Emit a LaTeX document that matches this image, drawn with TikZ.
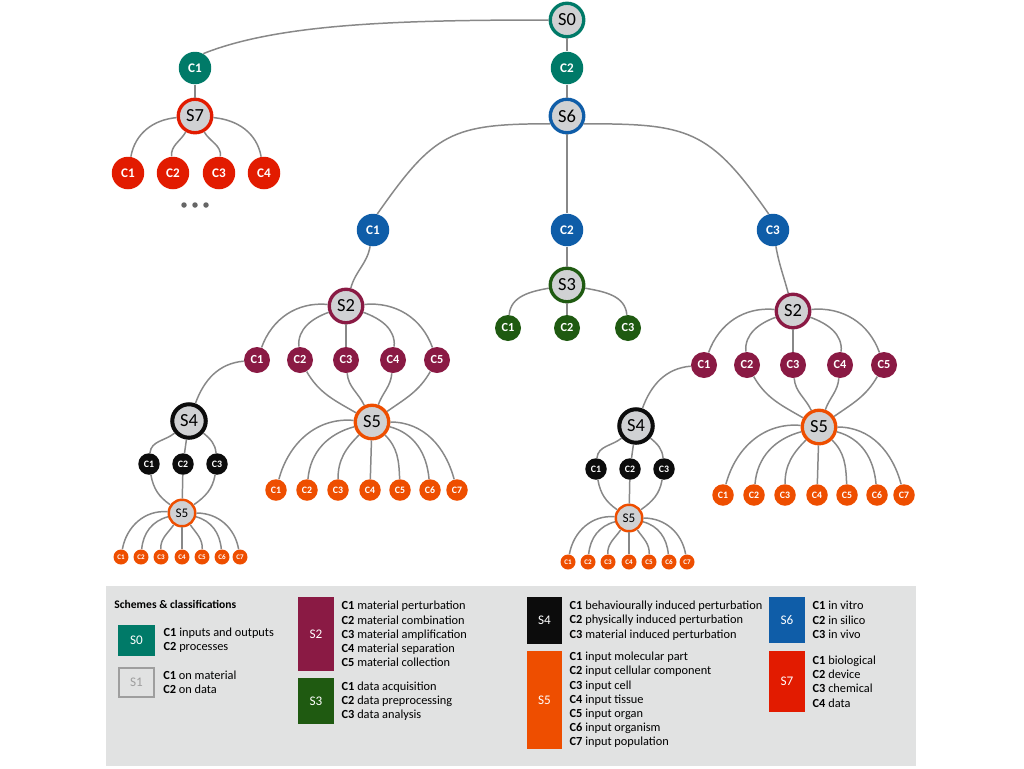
\documentclass[tikz,border=0pt]{standalone}
\usepackage{fontspec}
\setmainfont{Carlito}
\usetikzlibrary{positioning}
\definecolor{tealS0}{RGB}{0,122,104}
\definecolor{wineS2}{RGB}{138,26,68}
\definecolor{greenS3}{RGB}{31,90,17}
\definecolor{blackS4}{RGB}{12,12,12}
\definecolor{orangeS5}{RGB}{238,78,0}
\definecolor{blueS6}{RGB}{15,93,168}
\definecolor{redS7}{RGB}{226,27,0}
\definecolor{nodegray}{RGB}{208,209,211}
\definecolor{edgegray}{RGB}{136,136,136}
\definecolor{keygray}{RGB}{225,226,226}
\definecolor{keyline}{RGB}{158,158,158}
\tikzset{branch/.style={line width=0.85pt, draw=edgegray}}
\tikzset{scheme/.style={circle, draw, fill=nodegray, line width=1.9pt, inner sep=0pt,
           minimum size=0.67cm, font=\fontsize{10.5}{12}\selectfont},
         schemesmall/.style={scheme, line width=1.4pt, minimum size=0.53cm, font=\fontsize{7.5}{9}\selectfont},
         cls/.style={circle, text=white, inner sep=0pt, minimum size=0.65cm, font=\bfseries\fontsize{7.5}{9}\selectfont},
         clsmed/.style={cls, minimum size=0.52cm, font=\bfseries\fontsize{7}{8}\selectfont},
         clsnarrow/.style={cls, minimum size=0.43cm, font=\bfseries\fontsize{5.6}{7}\selectfont},
         clsmini/.style={cls, minimum size=0.3cm, font=\bfseries\fontsize{4}{5}\selectfont},
         keybox/.style={rectangle, inner sep=0pt, text=white, font=\fontsize{7.5}{9}\selectfont},
         keytext/.style={inner sep=0pt, align=left, font=\fontsize{7.02}{8.1}\selectfont}}

\begin{document}
\begin{tikzpicture}[x=0.02cm, y=-0.02cm]
  \useasboundingbox (0,0) rectangle (1024,768);

  % top of the tree
  \node[scheme, draw=tealS0] (S0) at (567,20) {S0};
  \node[cls, fill=tealS0] (S0c1) at (195,68) {C1};
  \node[cls, fill=tealS0] (S0c2) at (567,68) {C2};
  \node[scheme, draw=redS7] (S7) at (195,116) {S7};
  \node[scheme, draw=blueS6] (S6) at (567,116) {S6};
  \node[cls, fill=redS7] (S7c1) at (128,173) {C1};
  \node[cls, fill=redS7] (S7c2) at (173,173) {C2};
  \node[cls, fill=redS7] (S7c3) at (219,173) {C3};
  \node[cls, fill=redS7] (S7c4) at (264,173) {C4};
  \node[cls, fill=blueS6] (S6c1) at (373,230) {C1};
  \node[cls, fill=blueS6] (S6c2) at (567,230) {C2};
  \node[cls, fill=blueS6] (S6c3) at (773,230) {C3};
  \node[scheme, draw=greenS3] (S3) at (567,285) {S3};
  \node[clsmed, fill=greenS3] (S3c1) at (508,328) {C1};
  \node[clsmed, fill=greenS3] (S3c2) at (567,328) {C2};
  \node[clsmed, fill=greenS3] (S3c3) at (628,328) {C3};
  \fill[black!60] (184,205) circle (0.055cm) (195,205) circle (0.055cm) (206,205) circle (0.055cm);

  \draw[branch] (S0.west) .. controls +(-150,0) and +(75,-30) .. (S0c1.60);
  \draw[branch] (S0) -- (S0c2) -- (S6);
  \draw[branch] (S0c1) -- (S7);
  \draw[branch] (S7) to[out=185,in=80] (S7c1);
  \draw[branch] (S7) to[out=240,in=95] (S7c2);
  \draw[branch] (S7) to[out=300,in=85] (S7c3);
  \draw[branch] (S7) to[out=355,in=100] (S7c4);
  \draw[branch] (S6.205) to[out=180,in=55,looseness=1.3] (S6c1.75);
  \draw[branch] (S6) -- (S6c2) -- (S3);
  \draw[branch] (S6.-25) to[out=0,in=125,looseness=1.3] (S6c3.105);
  \draw[branch] (S3) to[out=190,in=85] (S3c1);
  \draw[branch] (S3) -- (S3c2);
  \draw[branch] (S3) to[out=-10,in=95] (S3c3);

  % the two S2 branches
  \foreach \p/\dx/\dy in {L/0/0,R/447/5}{
    \begin{scope}[shift={(\dx,\dy)}]
      \node[scheme, draw=wineS2] (S2\p) at (346,306) {S2};
      \node[clsmed, fill=wineS2] (S2c1\p) at (257,360) {C1};
      \node[clsmed, fill=wineS2] (S2c2\p) at (300,360) {C2};
      \node[clsmed, fill=wineS2] (S2c3\p) at (346,360) {C3};
      \node[clsmed, fill=wineS2] (S2c4\p) at (393,360) {C4};
      \node[clsmed, fill=wineS2] (S2c5\p) at (437,360) {C5};
      \node[scheme, draw=blackS4, line width=2.3pt] (S4\p) at (189,421) {S4};
      \node[clsnarrow, fill=blackS4] (S4c1\p) at (149,464) {C1};
      \node[clsnarrow, fill=blackS4] (S4c2\p) at (183,464) {C2};
      \node[clsnarrow, fill=blackS4] (S4c3\p) at (217,464) {C3};
      \node[schemesmall, draw=orangeS5] (S5s\p) at (182,513) {S5};
      \node[clsmini, fill=orangeS5] (S5sc1\p) at (121,557) {C1};
      \node[clsmini, fill=orangeS5] (S5sc2\p) at (141,557) {C2};
      \node[clsmini, fill=orangeS5] (S5sc3\p) at (161,557) {C3};
      \node[clsmini, fill=orangeS5] (S5sc4\p) at (182,557) {C4};
      \node[clsmini, fill=orangeS5] (S5sc5\p) at (202,557) {C5};
      \node[clsmini, fill=orangeS5] (S5sc6\p) at (222,557) {C6};
      \node[clsmini, fill=orangeS5] (S5sc7\p) at (240,557) {C7};
      \node[scheme, draw=orangeS5] (S5\p) at (372,422) {S5};
      \node[clsnarrow, fill=orangeS5] (S5c1\p) at (276,490) {C1};
      \node[clsnarrow, fill=orangeS5] (S5c2\p) at (307,490) {C2};
      \node[clsnarrow, fill=orangeS5] (S5c3\p) at (338,490) {C3};
      \node[clsnarrow, fill=orangeS5] (S5c4\p) at (370,490) {C4};
      \node[clsnarrow, fill=orangeS5] (S5c5\p) at (400,490) {C5};
      \node[clsnarrow, fill=orangeS5] (S5c6\p) at (430,490) {C6};
      \node[clsnarrow, fill=orangeS5] (S5c7\p) at (457,490) {C7};

      \draw[branch] (S2\p) to[out=175,in=70] (S2c1\p);
      \draw[branch] (S2\p) to[out=200,in=95] (S2c2\p);
      \draw[branch] (S2\p) -- (S2c3\p);
      \draw[branch] (S2\p) to[out=340,in=85] (S2c4\p);
      \draw[branch] (S2\p) to[out=5,in=110] (S2c5\p);
      \draw[branch] (S2c1\p) to[out=185,in=70] (S4\p);
      \draw[branch] (S2c2\p) to[out=-60,in=150] (S5\p);
      \draw[branch] (S2c3\p) to[out=-85,in=115] (S5\p);
      \draw[branch] (S2c4\p) to[out=265,in=70] (S5\p);
      \draw[branch] (S2c5\p) to[out=240,in=35] (S5\p);
      \draw[branch] (S4\p) to[out=220,in=85] (S4c1\p);
      \draw[branch] (S4\p) -- (S4c2\p);
      \draw[branch] (S4\p) to[out=-40,in=95] (S4c3\p);
      \draw[branch] (S4c1\p) to[out=-80,in=145] (S5s\p);
      \draw[branch] (S4c2\p) -- (S5s\p);
      \draw[branch] (S4c3\p) to[out=260,in=35] (S5s\p);
      \draw[branch] (S5s\p) to[out=175,in=80] (S5sc1\p);
      \draw[branch] (S5s\p) to[out=195,in=85] (S5sc2\p);
      \draw[branch] (S5s\p) to[out=235,in=92] (S5sc3\p);
      \draw[branch] (S5s\p) -- (S5sc4\p);
      \draw[branch] (S5s\p) to[out=-55,in=88] (S5sc5\p);
      \draw[branch] (S5s\p) to[out=-15,in=95] (S5sc6\p);
      \draw[branch] (S5s\p) to[out=0,in=100] (S5sc7\p);
      \draw[branch] (S5\p) to[out=175,in=75] (S5c1\p);
      \draw[branch] (S5\p) to[out=195,in=85] (S5c2\p);
      \draw[branch] (S5\p) to[out=225,in=90] (S5c3\p);
      \draw[branch] (S5\p) -- (S5c4\p);
      \draw[branch] (S5\p) to[out=-45,in=92] (S5c5\p);
      \draw[branch] (S5\p) to[out=-15,in=95] (S5c6\p);
      \draw[branch] (S5\p) to[out=0,in=105] (S5c7\p);
    \end{scope}
  }
  \draw[branch] (S6c1) to[out=260,in=75] (S2L);
  \draw[branch] (S6c3) to[out=-80,in=105] (S2R);

  % key
  \fill[keygray] (106,586) rectangle (916,766);
  \node[anchor=west, inner sep=0pt, font=\bfseries\fontsize{6.6}{8}\selectfont] (keytitle) at (114,604) {Schemes \& classifications};
  \node[keybox, fill=tealS0, minimum width=0.74cm, minimum height=0.62cm] (k0) at (136.5,640.5) {S0};
  \node[keytext, right=0.16cm of k0] (t0) {\textbf{C1} inputs and outputs\\\textbf{C2} processes};
  \node[keybox, fill=keygray, draw=keyline, line width=0.9pt, text=keyline, minimum width=0.71cm, minimum height=0.59cm] (k1) at (136.5,682.5) {S1};
  \node[keytext, right=0.16cm of k1] (t1) {\textbf{C1} on material\\\textbf{C2} on data};
  \node[keybox, fill=wineS2, minimum width=0.72cm, minimum height=1.48cm] (k2) at (316,634) {S2};
  \node[keytext, right=0.14cm of k2] (t2) {\textbf{C1} material perturbation\\\textbf{C2} material combination\\\textbf{C3} material amplification\\\textbf{C4} material separation\\\textbf{C5} material collection};
  \node[keybox, fill=greenS3, minimum width=0.72cm, minimum height=0.92cm] (k3) at (316,701) {S3};
  \node[keytext, right=0.14cm of k3] (t3) {\textbf{C1} data acquisition\\\textbf{C2} data preprocessing\\\textbf{C3} data analysis};
  \node[keybox, fill=blackS4, minimum width=0.7cm, minimum height=0.94cm] (k4) at (544.5,620.5) {S4};
  \node[keytext, right=0.14cm of k4] (t4) {\textbf{C1} behaviourally induced perturbation\\\textbf{C2} physically induced perturbation\\\textbf{C3} material induced perturbation};
  \node[keybox, fill=orangeS5, minimum width=0.7cm, minimum height=1.96cm] (k5) at (544.5,700) {S5};
  \node[keytext, right=0.14cm of k5] (t5) {\textbf{C1} input molecular part\\\textbf{C2} input cellular component\\\textbf{C3} input cell\\\textbf{C4} input tissue\\\textbf{C5} input organ\\\textbf{C6} input organism\\\textbf{C7} input population};
  \node[keybox, fill=blueS6, minimum width=0.72cm, minimum height=0.92cm] (k6) at (787,620) {S6};
  \node[keytext, right=0.14cm of k6] (t6) {\textbf{C1} in vitro\\\textbf{C2} in silico\\\textbf{C3} in vivo};
  \node[keybox, fill=redS7, minimum width=0.72cm, minimum height=1.22cm] (k7) at (787,681.5) {S7};
  \node[keytext, right=0.14cm of k7] (t7) {\textbf{C1} biological\\\textbf{C2} device\\\textbf{C3} chemical\\\textbf{C4} data};
\end{tikzpicture}
\end{document}
